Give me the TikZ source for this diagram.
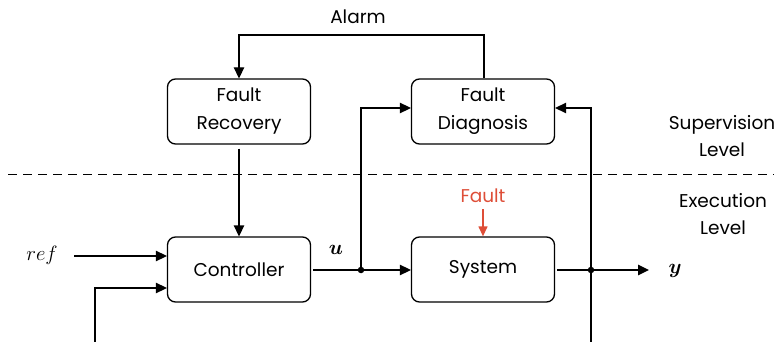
\documentclass[tikz,border=0pt]{standalone}
\usepackage{amsmath}
\usepackage{fontspec}
\setmainfont{Poppins}
\usetikzlibrary{arrows.meta}
\definecolor{faultred}{RGB}{222,78,56}
\tikzset{
  blockbox/.style={draw, line width=1.3pt, rounded corners=8pt, minimum width=143pt, minimum height=65pt, align=center, font=\fontsize{18.5}{28}\selectfont},
  sig/.style={line width=1.3pt, -{Triangle[length=11pt,width=10.5pt]}},
  wire/.style={line width=1.3pt},
  dot/.style={circle, fill, inner sep=0pt, minimum size=6.5pt},
  lbl/.style={align=center, font=\fontsize{18.5}{27}\selectfont},
  mathlbl/.style={font=\fontsize{21}{24}\selectfont}
}
\begin{document}
\begin{tikzpicture}[x=1pt,y=-1pt]
\useasboundingbox (0,0) rectangle (782,342);

% blocks
\node[blockbox] (fr) at (239,111.5) {Fault\\Recovery};
\node[blockbox] (fd) at (483,111.5) {Fault\\Diagnosis};
\node[blockbox] (ctrl) at (239,269.5) {Controller};
\node[blockbox] (sys) at (483,269.5) {System};

% level separator
\draw[line width=1pt, dash pattern=on 9pt off 6pt] (8,174.5) -- (774,174.5);
\node[lbl] (sup) at (722,136.5) {Supervision\\Level};
\node[lbl] (exe) at (723,214.5) {Execution\\Level};

% alarm feedback
\coordinate (al1) at (484,35);
\coordinate (al2) at (239,35);
\draw[sig] (fd.north -| al1) -- (al1) -- (al2) -- (fr.north -| al2);
\node[lbl] (alarm) at (358,17) {Alarm};

% recovery to controller
\draw[sig] ([yshift=-4pt]fr.south) -- (ctrl.north);

% controller inputs
\node[mathlbl] (ref) at (42,255) {$ref$};
\coordinate (refs) at (74,256);
\draw[sig] (refs) -- (ctrl.west |- refs);
\coordinate (fb0) at (95,342);
\coordinate (fb1) at (95,288);
\draw[sig] (fb0) -- (fb1) -- (ctrl.west |- fb1);

% control signal u
\node[dot] (ju) at (361,270) {};
\draw[wire] ([xshift=2pt]ctrl.east |- ju) -- (ju);
\draw[sig] (ju) -- (sys.west |- ju);
\coordinate (uup) at (361,108);
\draw[sig] (ju) -- (uup) -- (fd.west |- uup);
\node[mathlbl] (u) at (336,250) {$\boldsymbol{u}$};

% output y
\node[dot] (jy) at (591,270) {};
\draw[wire] ([xshift=2pt]sys.east |- jy) -- (jy);
\coordinate (yend) at (649,270);
\draw[sig] (jy) -- (yend);
\node[mathlbl] (y) at (675,271) {$\boldsymbol{y}$};
\coordinate (ybot) at (591,342);
\coordinate (yup) at (591,108);
\draw[sig] (ybot) -- (yup) -- (fd.east |- yup);

% fault injection
\node[lbl, text=faultred] (fault) at (483,196) {Fault};
\draw[line width=1.3pt, draw=faultred, -{Triangle[length=10pt,width=9pt]}, faultred] (483,209) -- (sys.north);
\end{tikzpicture}
\end{document}
